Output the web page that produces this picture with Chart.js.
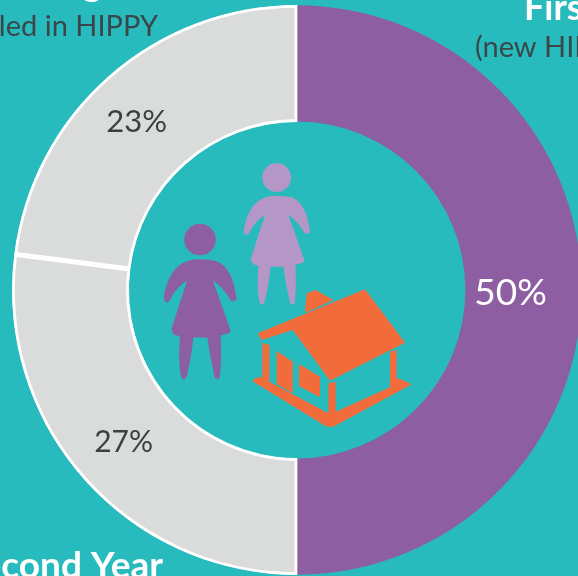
<!DOCTYPE html>
<html>
<head>
<meta charset="utf-8">
<style>
    html, body { margin: 0; padding: 0; width: 578px; height: 576px; overflow: hidden; background: #27bbbd; }
    canvas { display: block; }
</style>
<script src="https://cdn.jsdelivr.net/npm/chart.js@4"></script>
</head>
<body>
<canvas id="yearChart" width="594" height="580"></canvas>
<script>
const categories = ['First Year', 'Second Year', 'Third Year or longer'];
const shares = [50, 27, 23];
const sliceColors = ['#8e5ea2', '#dadbdb', '#dadbdb'];
const borderWidths = [0, 2.5, 2.5];
const labelColors = ['#ffffff', '#3b3f42', '#3b3f42'];
const labelSizes = [37, 30, 31];
const labelNudge = [[-13, 3], [-3.5, 3], [-10.5, 2]];

const darkText = '#3b464a';

// percent labels sit on the ring
const percentLabels = {
    id: 'percentLabels',
    afterDatasetsDraw(chart) {
        const ctx = chart.ctx;
        chart.getDatasetMeta(0).data.forEach((arc, i) => {
            const p = arc.getCenterPoint();
            ctx.font = labelSizes[i] + 'px Lato';
            ctx.fillStyle = labelColors[i];
            ctx.textAlign = 'center';
            ctx.textBaseline = 'middle';
            ctx.fillText(shares[i] + '%', p.x + labelNudge[i][0], p.y + labelNudge[i][1]);
        });
    }
};

// category headings, cropped by the edge of the picture
const headings = {
    id: 'headings',
    afterDraw(chart) {
        const ctx = chart.ctx;
        ctx.textBaseline = 'alphabetic';

        ctx.fillStyle = '#ffffff';
        ctx.font = 'bold 36px Lato';
        ctx.textAlign = 'left';
        ctx.fillText(categories[0], 524, 20);
        ctx.textAlign = 'right';
        ctx.font = 'bold 37px Lato';
        ctx.fillText(categories[1], 163, 578);
        ctx.fillText(categories[2], 135, -4);

        ctx.fillStyle = darkText;
        ctx.font = '29px Lato';
        ctx.textAlign = 'left';
        ctx.fillText('(new HIPPY', 475, 57);
        ctx.textAlign = 'right';
        ctx.fillText('enrolled in HIPPY', 158, 36);
    }
};

function poly(ctx, pts) {
    ctx.beginPath();
    pts.forEach((p, i) => i ? ctx.lineTo(p[0], p[1]) : ctx.moveTo(p[0], p[1]));
    ctx.closePath();
    ctx.fill();
}

function drawWoman(ctx, x, y, s, color) {
    ctx.save();
    ctx.translate(x, y);
    ctx.scale(s, s);
    ctx.fillStyle = color;
    ctx.beginPath();
    ctx.arc(0, -54, 43, 0, Math.PI * 2);
    ctx.fill();
    ctx.beginPath();
    ctx.moveTo(0, 0);
    ctx.bezierCurveTo(-45, 0, -80, 20, -97, 93);
    ctx.quadraticCurveTo(-102, 115, -90, 118);
    ctx.quadraticCurveTo(-82, 115, -75, 98);
    ctx.quadraticCurveTo(-58, 72, -35, 58);
    ctx.lineTo(-78, 190);
    ctx.lineTo(-72, 205);
    ctx.lineTo(-55, 210);
    ctx.quadraticCurveTo(-60, 290, -50, 325);
    ctx.quadraticCurveTo(-42, 332, -36, 318);
    ctx.quadraticCurveTo(-24, 270, -18, 213);
    ctx.lineTo(20, 213);
    ctx.quadraticCurveTo(28, 270, 40, 322);
    ctx.quadraticCurveTo(48, 332, 54, 322);
    ctx.quadraticCurveTo(60, 270, 56, 208);
    ctx.lineTo(82, 200);
    ctx.lineTo(82, 190);
    ctx.lineTo(35, 58);
    ctx.quadraticCurveTo(62, 75, 82, 110);
    ctx.quadraticCurveTo(92, 120, 100, 108);
    ctx.quadraticCurveTo(88, 20, 45, 5);
    ctx.quadraticCurveTo(25, 0, 0, 0);
    ctx.closePath();
    ctx.fill();
    ctx.restore();
}

function drawHouse(ctx) {
    ctx.fillStyle = '#f26b3a';
    // roof and chimney
    poly(ctx, [[323, 550], [645, 418], [765, 578], [540, 692], [428, 540], [335, 570]]);
    poly(ctx, [[465, 482], [470, 430], [497, 420], [550, 450], [470, 487]]);
    // posts, door, window
    poly(ctx, [[337, 578], [358, 585], [358, 695], [337, 685]]);
    poly(ctx, [[380, 603], [428, 635], [428, 730], [380, 702]]);
    poly(ctx, [[447, 642], [510, 680], [510, 742], [447, 708]]);
    poly(ctx, [[535, 700], [557, 695], [557, 800], [535, 800]]);
    poly(ctx, [[720, 605], [740, 600], [740, 710], [720, 716]]);
    // base
    poly(ctx, [[310, 688], [330, 680], [535, 790], [557, 785], [720, 712], [745, 685], [785, 703], [550, 830], [530, 830], [310, 695]]);
}

// the family and house in the hole of the ring
const centerIcons = {
    id: 'centerIcons',
    afterDatasetsDraw(chart) {
        const ctx = chart.ctx;
        ctx.save();
        ctx.translate(150, 150);
        ctx.scale(1 / 3, 1 / 3);
        drawWoman(ctx, 380, 137, 1, '#b497c6');
        drawWoman(ctx, 150, 328, 1.1, '#8e5ea2');
        drawHouse(ctx);
        ctx.restore();
    }
};

const ctx = document.getElementById('yearChart').getContext('2d');
new Chart(ctx, {
    type: 'doughnut',
    data: {
        labels: categories,
        datasets: [{
            data: shares,
            backgroundColor: sliceColors,
            borderColor: '#ffffff',
            borderWidth: borderWidths,
            borderAlign: 'inner'
        }]
    },
    options: {
        responsive: false,
        animation: false,
        radius: 285,
        cutout: 171,
        plugins: {
            legend: { display: false },
            tooltip: { enabled: false }
        }
    },
    plugins: [percentLabels, headings, centerIcons]
});
</script>
</body>
</html>
